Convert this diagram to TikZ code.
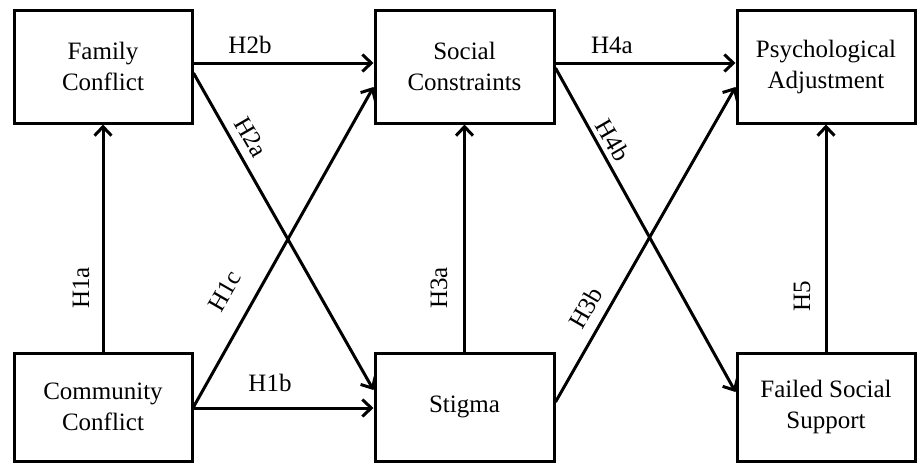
\documentclass[tikz,border=0pt]{standalone}
\usepackage{fontspec}
\setmainfont{Liberation Serif}
\usetikzlibrary{arrows.meta}
\begin{document}
\begin{tikzpicture}[x=1pt,y=-1pt,
  box/.style={draw, line width=3pt, inner sep=0pt, align=center,
    font=\fontsize{25}{31}\selectfont, minimum width=178pt},
  topbox/.style={box, minimum height=113pt},
  botbox/.style={box, minimum height=108pt},
  arr/.style={line width=3pt, -{Straight Barb[length=9pt,width=17pt]}},
  lab/.style={font=\fontsize{25}{31}\selectfont, inner sep=0pt}]
\useasboundingbox (0,0) rectangle (917,463);
\node[topbox] (fam) at (103,66.5) {Family\\Conflict};
\node[topbox, minimum width=179pt] (soc) at (464.5,66.5) {Social\\Constraints};
\node[topbox] (psy) at (826,66.5) {Psychological\\Adjustment};
\node[botbox] (com) at (103,407) {Community\\Conflict};
\node[botbox, minimum width=179pt] (sti) at (464.5,407) {Stigma};
\node[botbox] (fss) at (826,407) {Failed Social\\Support};

\draw[arr] (com.north) -- (fam.south);
\draw[arr] (sti.north) -- (soc.south);
\draw[arr] (fss.north) -- (psy.south);
\draw[arr] ([yshift=3.5pt]fam.east) -- ([yshift=3.5pt]soc.west);
\draw[arr] ([yshift=3.5pt]soc.east) -- ([yshift=3.5pt]psy.west);
\draw[arr] ([yshift=-1pt]com.east) -- ([yshift=-1pt]sti.west);
\draw[arr] ([yshift=-6.5pt]fam.east) -- ([yshift=17pt]sti.west);
\draw[arr] (com.east) -- ([yshift=-20.5pt]soc.west);
\draw[arr] ([yshift=-1.5pt]soc.east) -- ([yshift=15pt]fss.west);
\draw[arr] ([yshift=5pt]sti.east) -- ([yshift=-20.5pt]psy.west);

\node[lab] (l2b) at (250,45) {H2b};
\node[lab] (l4a) at (612,45) {H4a};
\node[lab] (l1b) at (270,383) {H1b};
\node[lab, rotate=90] (l1a) at (81,288) {H1a};
\node[lab, rotate=90] (l3a) at (439,288) {H3a};
\node[lab, rotate=90] (l5) at (802,296) {H5};
\node[lab, rotate=-60] (l2a) at (251,137) {H2a};
\node[lab, rotate=-60] (l4b) at (613,140) {H4b};
\node[lab, rotate=60] (l1c) at (225,291) {H1c};
\node[lab, rotate=60] (l3b) at (586,308) {H3b};
\end{tikzpicture}
\end{document}
